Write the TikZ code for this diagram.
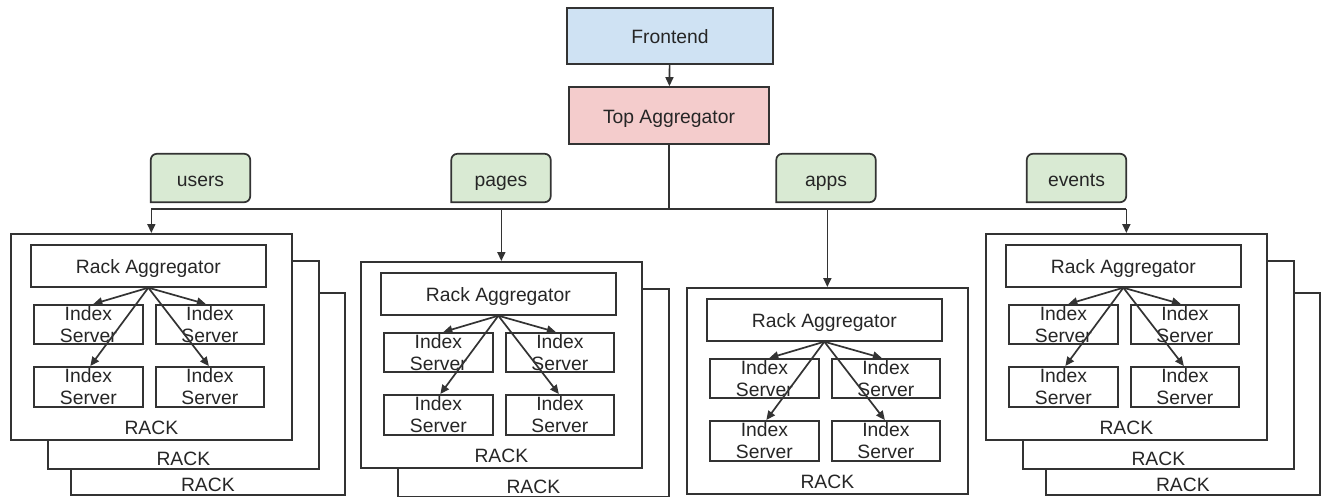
\documentclass[tikz,border=0pt]{standalone}
\usepackage{fontspec}
\setmainfont{Liberation Sans}
\usetikzlibrary{arrows.meta,backgrounds}
\definecolor{ln}{HTML}{333333}
\definecolor{tx}{HTML}{262626}
\definecolor{feblue}{HTML}{CFE2F3}
\definecolor{tapink}{HTML}{F4CCCC}
\definecolor{tabgreen}{HTML}{D9EAD3}
\newcommand\fsz{\fontsize{19.3pt}{22pt}\selectfont}
\tikzset{
  box/.style={draw=ln, line width=1.7pt, inner sep=0pt, text=tx, font=\fsz,
    text height=15pt, text depth=0pt},
  txt/.style={inner sep=0pt, text=tx, font=\fsz, text height=15pt, text depth=0pt},
  rackbox/.style={box, fill=white, anchor=north west},
  islabel/.style={inner sep=0pt, text=tx, font=\fsz, align=center},
  isbox/.style={box, anchor=north west, minimum height=39pt,
    label={[islabel]center:{Index\\Server}}},
  arr/.style={draw=ln, line width=1.7pt, -{Triangle[length=9pt,width=8pt]}},
  conn/.style={draw=ln, line width=1.7pt},
  tabtext/.style={txt, text height=16pt, minimum width=99pt, minimum height=48pt},
  tabshape/.style={draw=ln, line width=1.7pt, fill=tabgreen}
}
% #1 prefix, #2 x, #3 y, #4 number of racks behind
\newcommand\rackgroup[4]{%
  \begin{scope}[shift={(#2,#3)}]
    \ifnum#4>1
      \node[rackbox, minimum width=274pt, minimum height=202pt] (#1rc) at (60,59) {};
      \node[txt] (#1rcl) at ([yshift=12pt]#1rc.south) {RACK};
    \fi
    \ifnum#4>0
      \node[rackbox, minimum width=271pt, minimum height=208pt] (#1rb) at (37,27) {};
      \node[txt] (#1rbl) at ([yshift=12pt]#1rb.south) {RACK};
    \fi
    \node[rackbox, minimum width=281pt, minimum height=206pt] (#1r) at (0,0) {};
    \node[txt] (#1rl) at ([yshift=14pt]#1r.south) {RACK};
    \node[box, anchor=north west, minimum width=235pt, minimum height=42pt] (#1ra) at (20,11) {Rack Aggregator};
    \node[isbox, minimum width=109pt] (#1a) at (23,71) {};
    \node[isbox, minimum width=108pt] (#1b) at (145,71) {};
    \node[isbox, minimum width=109pt, minimum height=40pt] (#1c) at (23,133) {};
    \node[isbox, minimum width=108pt, minimum height=40pt] (#1d) at (145,133) {};
    \draw[arr] (#1ra.south) -- ([xshift=5pt]#1a.north);
    \draw[arr] (#1ra.south) -- ([xshift=-4pt]#1b.north);
    \draw[arr] (#1ra.south) -- ([xshift=2pt]#1c.north);
    \draw[arr] (#1ra.south) -- ([xshift=-1pt]#1d.north);
  \end{scope}}
\newcommand\tabdraw[1]{%
  \begin{scope}[on background layer]
    \draw[tabshape] (#1.south west) [rounded corners=6pt] |- (#1.north) -| (#1.south east) [sharp corners] -- cycle;
  \end{scope}}
\begin{document}
\begin{tikzpicture}[x=1pt,y=-1pt]
  \useasboundingbox (0,0) rectangle (1321,496);
  \node[box, fill=feblue, minimum width=206pt, minimum height=56pt] (fe) at (670,36) {Frontend};
  \node[box, fill=tapink, minimum width=200pt, minimum height=57pt] (ta) at (669,115.5) {Top Aggregator};
  \draw[arr] (fe) -- (ta);

  \node[tabtext] (tu) at (200.5,178) {users};
  \node[tabtext] (tp) at (501,178) {pages};
  \node[tabtext] (tap) at (826,178) {apps};
  \node[tabtext] (tev) at (1076.5,178) {events};
  \tabdraw{tu}\tabdraw{tp}\tabdraw{tap}\tabdraw{tev}

  \rackgroup{u}{10}{233}{2}
  \rackgroup{p}{360}{261}{1}
  \rackgroup{ap}{686}{287}{0}
  \rackgroup{ev}{985}{233}{2}

  \coordinate (bus) at (0,209);
  \draw[conn] (ta.south) -- (ta.south |- bus);
  \draw[conn] (ur.north |- bus) -- (evr.north |- bus);
  \draw[arr] (ur.north |- bus) -- (ur.north);
  \draw[arr] (pr.north |- bus) -- (pr.north);
  \draw[arr] (apr.north |- bus) -- (apr.north);
  \draw[arr] (evr.north |- bus) -- (evr.north);
\end{tikzpicture}
\end{document}
